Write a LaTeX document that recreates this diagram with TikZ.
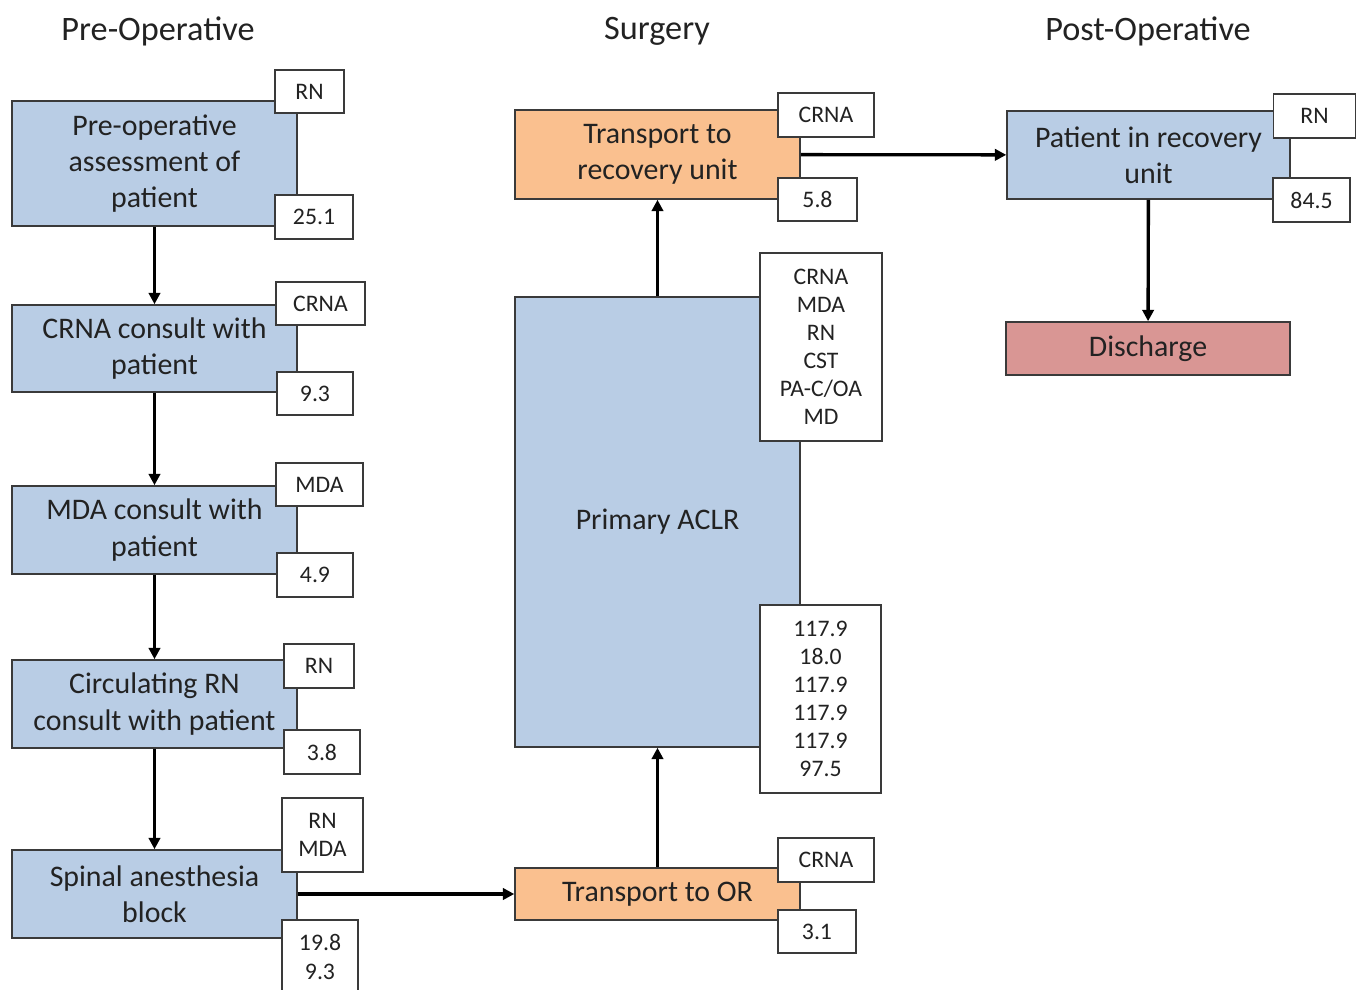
\documentclass[tikz,border=0pt]{standalone}
\usepackage{fontspec}
\setmainfont{Carlito}
\usetikzlibrary{arrows.meta}
\definecolor{boxblue}{HTML}{B9CDE5}
\definecolor{boxorange}{HTML}{FAC08F}
\definecolor{boxpink}{HTML}{D99694}
\definecolor{edgegray}{HTML}{3A3A3A}
\definecolor{txt}{HTML}{222222}
\begin{document}
\begin{tikzpicture}[x=0.02cm,y=-0.02cm,
  proc/.style={draw=edgegray, line width=0.9pt, inner sep=0pt, align=center, text=txt,
    font=\fontsize{17}{20.7}\selectfont},
  bluebox/.style={proc, fill=boxblue},
  orangebox/.style={proc, fill=boxorange},
  pinkbox/.style={proc, fill=boxpink},
  tag/.style={draw=edgegray, line width=0.8pt, fill=white, inner sep=0pt, align=center, text=txt,
    font=\fontsize{13.5}{16}\selectfont},
  header/.style={text=txt, font=\fontsize{19.5}{23}\selectfont},
  flow/.style={line width=1.9pt, -{Triangle[length=6.5pt,width=6.5pt]}}
]
\useasboundingbox (0,0) rectangle (1356,990);

% headers
\node[header] (h1) at (158,31) {Pre-Operative};
\node[header] (h2) at (657,31) {Surgery};
\node[header] (h3) at (1148,31) {Post-Operative};

% pre-operative column
\node[bluebox, minimum width=5.7cm, minimum height=2.5cm] (b1) at (154.5,163.5) {Pre-operative\\assessment of\\patient};
\node[bluebox, minimum width=5.7cm, minimum height=1.74cm] (b2) at (154.5,348.5) {CRNA consult with\\patient};
\node[bluebox, minimum width=5.7cm, minimum height=1.76cm] (b3) at (154.5,530) {MDA consult with\\patient};
\node[bluebox, minimum width=5.7cm, minimum height=1.76cm] (b4) at (154.5,704) {Circulating RN\\consult with patient};
\node[bluebox, minimum width=5.7cm, minimum height=1.76cm] (b5) at (154.5,894) {Spinal anesthesia\\block};

\node[tag, minimum width=1.38cm, minimum height=0.86cm] (t1a) at (309.5,91.5) {RN};
\node[tag, minimum width=1.56cm, minimum height=0.88cm] (t1b) at (314,217) {25.1};
\node[tag, minimum width=1.78cm, minimum height=0.86cm] (t2a) at (320.5,303.5) {CRNA};
\node[tag, minimum width=1.52cm, minimum height=0.86cm] (t2b) at (315,393.5) {9.3};
\node[tag, minimum width=1.74cm, minimum height=0.86cm] (t3a) at (319.5,484.5) {MDA};
\node[tag, minimum width=1.52cm, minimum height=0.88cm] (t3b) at (315,575) {4.9};
\node[tag, minimum width=1.40cm, minimum height=0.88cm] (t4a) at (319,666) {RN};
\node[tag, minimum width=1.52cm, minimum height=0.88cm] (t4b) at (322,752) {3.8};
\node[tag, minimum width=1.62cm, minimum height=1.48cm] (t5a) at (322.5,835) {RN\\MDA};
\node[tag, minimum width=1.52cm, minimum height=1.48cm] (t5b) at (320,957) {19.8\\9.3};

% surgery column
\node[orangebox, minimum width=5.7cm, minimum height=1.78cm] (tr) at (657.5,154.5) {Transport to\\recovery unit};
\node[bluebox, minimum width=5.7cm, minimum height=9.0cm] (ac) at (657.5,522) {Primary ACLR};
\node[orangebox, minimum width=5.7cm, minimum height=1.04cm] (to) at (657.5,894) {Transport to OR};

\node[tag, minimum width=1.92cm, minimum height=0.88cm] (tra) at (826,115) {CRNA};
\node[tag, minimum width=1.58cm, minimum height=0.86cm] (trb) at (817.5,199.5) {5.8};
\node[tag, minimum width=2.44cm, minimum height=3.76cm, font=\fontsize{13.5}{15.9}\selectfont] (aca) at (821,347) {CRNA\\MDA\\RN\\CST\\PA-C/OA\\MD};
\node[tag, minimum width=2.42cm, minimum height=3.76cm, font=\fontsize{13.5}{15.9}\selectfont] (acb) at (820.5,699) {117.9\\18.0\\117.9\\117.9\\117.9\\97.5};
\node[tag, minimum width=1.92cm, minimum height=0.88cm] (toa) at (826,860) {CRNA};
\node[tag, minimum width=1.56cm, minimum height=0.86cm] (tob) at (817,931.5) {3.1};

% post-operative column
\node[bluebox, minimum width=5.66cm, minimum height=1.76cm] (pr) at (1148.5,155) {Patient in recovery\\unit};
\node[pinkbox, minimum width=5.68cm, minimum height=1.06cm] (dc) at (1148,348.5) {Discharge};
\node[tag, minimum width=1.64cm, minimum height=0.88cm] (pra) at (1314.5,116) {RN};
\node[tag, minimum width=1.54cm, minimum height=0.88cm] (prb) at (1311.5,200) {84.5};

% connectors
\draw[flow] (b1) -- (b2);
\draw[flow] (b2) -- (b3);
\draw[flow] (b3) -- (b4);
\draw[flow] (b4) -- (b5);
\draw[flow] (b5) -- (to);
\draw[flow] (to) -- (ac);
\draw[flow] (ac) -- (tr);
\draw[flow] (tr) -- (pr);
\draw[flow] (pr) -- (dc);
\end{tikzpicture}
\end{document}
